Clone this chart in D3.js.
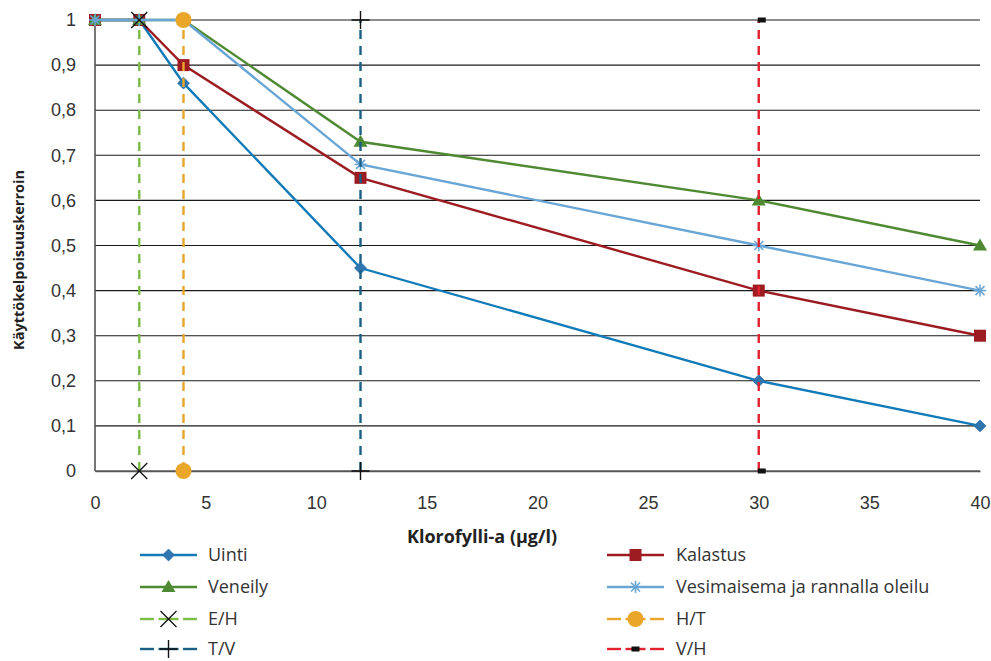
<!DOCTYPE html>
<html>
<head>
<meta charset="utf-8">
<script src="https://cdn.jsdelivr.net/npm/d3@7"></script>
<style>
  html, body { margin: 0; padding: 0; background: #fff; }
  svg { display: block; font-family: "Open Sans", "Liberation Sans", sans-serif; }
</style>
</head>
<body>
<svg id="chart" width="991" height="661"></svg>
<script>
// Chlorophyll-a concentrations (µg/l) where each usability value is given
const chlorophyll = [0, 2, 4, 12, 30, 40];

// Usability coefficients per recreational use
const uinti = [1, 1, 0.86, 0.45, 0.2, 0.1];
const kalastus = [1, 1, 0.9, 0.65, 0.4, 0.3];
const veneily = [1, 1, 1, 0.73, 0.6, 0.5];
const vesimaisema = [1, 1, 1, 0.68, 0.5, 0.4];

// Class boundaries (vertical reference lines)
const boundaryNames = ["E/H", "H/T", "T/V", "V/H"];
const boundaryX = [2, 4, 12, 30];
const boundaryY = [0, 1];

const xTicks = [0, 5, 10, 15, 20, 25, 30, 35, 40];
const yTicks = [0, 0.1, 0.2, 0.3, 0.4, 0.5, 0.6, 0.7, 0.8, 0.9, 1];

const svg = d3.select("#chart");
const plot = { left: 95, right: 980, top: 20, bottom: 471 };

const x = d3.scaleLinear().domain([0, 40]).range([plot.left, plot.right]);
const y = d3.scaleLinear().domain([0, 1]).range([plot.bottom, plot.top]);

const fmt = v => (v === 0 || v === 1) ? String(v) : String(v).replace(".", ",");

// Horizontal gridlines
svg.append("g").selectAll("line").data(yTicks).join("line")
  .attr("x1", plot.left).attr("x2", plot.right)
  .attr("y1", d => y(d)).attr("y2", d => y(d))
  .attr("stroke", "#1a1a1a").attr("stroke-width", 1.1);

// Left axis line
svg.append("line")
  .attr("x1", plot.left).attr("x2", plot.left).attr("y1", plot.top).attr("y2", plot.bottom)
  .attr("stroke", "#555").attr("stroke-width", 1.6);

// Axis tick labels
const yAxis = d3.axisLeft(y).tickValues(yTicks).tickFormat(fmt).tickSize(0).tickPadding(19);
const gy = svg.append("g").attr("transform", `translate(${plot.left},0)`).call(yAxis);
gy.select(".domain").remove();
gy.selectAll("text").attr("font-size", 18).attr("fill", "#333");

const xAxis = d3.axisBottom(x).tickValues(xTicks).tickFormat(d3.format("d")).tickSize(0).tickPadding(25);
const gx = svg.append("g").attr("transform", `translate(0,${plot.bottom})`).call(xAxis);
gx.select(".domain").attr("stroke", "#555").attr("stroke-width", 1.6);
gx.selectAll("text").attr("font-size", 18).attr("fill", "#333");

// Axis titles
svg.append("text")
  .attr("x", 482).attr("y", 543)
  .attr("text-anchor", "middle").attr("font-size", 18).attr("font-weight", "bold").attr("fill", "#222")
  .text("Klorofylli-a (µg/l)");
svg.append("text")
  .attr("transform", "translate(24,260) rotate(-90)")
  .attr("text-anchor", "middle").attr("font-size", 14.5).attr("font-weight", "bold").attr("fill", "#222")
  .text("Käyttökelpoisuuskerroin");

// Marker shapes
function drawMarker(g, type, cx, cy, color) {
  if (type === "diamond") {
    g.append("path").attr("d", d3.symbol(d3.symbolDiamond2, 90)())
      .attr("transform", `translate(${cx},${cy})`).attr("fill", color).attr("stroke", "#2b6fa8").attr("stroke-width", 0.8);
  } else if (type === "square") {
    g.append("rect").attr("x", cx - 6).attr("y", cy - 6).attr("width", 12).attr("height", 12).attr("fill", color);
  } else if (type === "triangle") {
    g.append("path").attr("d", `M${cx},${cy - 7}L${cx + 7},${cy + 5}L${cx - 7},${cy + 5}Z`).attr("fill", color);
  } else if (type === "star") {
    const r = 6;
    const p = [[-r, 0, r, 0], [0, -r, 0, r], [-r * 0.75, -r * 0.75, r * 0.75, r * 0.75], [-r * 0.75, r * 0.75, r * 0.75, -r * 0.75]];
    p.forEach(s => g.append("line").attr("x1", cx + s[0]).attr("y1", cy + s[1]).attr("x2", cx + s[2]).attr("y2", cy + s[3])
      .attr("stroke", color).attr("stroke-width", 1.6));
  } else if (type === "x") {
    const r = 8;
    g.append("path").attr("d", `M${cx - r},${cy - r}L${cx + r},${cy + r}M${cx - r},${cy + r}L${cx + r},${cy - r}`)
      .attr("stroke", "#111").attr("stroke-width", 1.3).attr("fill", "none");
  } else if (type === "circle") {
    g.append("circle").attr("cx", cx).attr("cy", cy).attr("r", 8).attr("fill", color);
  } else if (type === "plus") {
    const r = 9;
    g.append("path").attr("d", `M${cx - r},${cy}L${cx + r},${cy}M${cx},${cy - r}L${cx},${cy + r}`)
      .attr("stroke", "#111").attr("stroke-width", 1.4).attr("fill", "none");
  } else if (type === "dash") {
    g.append("rect").attr("x", cx - 1).attr("y", cy - 2.5).attr("width", 8).attr("height", 5).attr("fill", "#111");
  }
}

const series = [
  { name: "Uinti", xs: chlorophyll, ys: uinti, color: "#117ab8", marker: "diamond", dash: null, mColor: "#2f75b0" },
  { name: "Kalastus", xs: chlorophyll, ys: kalastus, color: "#9c1c22", marker: "square", dash: null, mColor: "#9c1c22" },
  { name: "Veneily", xs: chlorophyll, ys: veneily, color: "#4f8a32", marker: "triangle", dash: null, mColor: "#4f8a32" },
  { name: "Vesimaisema ja rannalla oleilu", xs: chlorophyll, ys: vesimaisema, color: "#6aa6d5", marker: "star", dash: null, mColor: "#6aa6d5" },
  { name: boundaryNames[0], xs: [boundaryX[0], boundaryX[0]], ys: boundaryY, color: "#7dbc45", marker: "x", dash: "9,7", mColor: "#111" },
  { name: boundaryNames[1], xs: [boundaryX[1], boundaryX[1]], ys: boundaryY, color: "#e9a628", marker: "circle", dash: "9,7", mColor: "#e9a628" },
  { name: boundaryNames[2], xs: [boundaryX[2], boundaryX[2]], ys: boundaryY, color: "#1a5f85", marker: "plus", dash: "9,7", mColor: "#111" },
  { name: boundaryNames[3], xs: [boundaryX[3], boundaryX[3]], ys: boundaryY, color: "#e1222f", marker: "dash", dash: "9,7", mColor: "#111" }
];

const line = d3.line().x(d => x(d[0])).y(d => y(d[1]));

series.forEach(s => {
  const g = svg.append("g");
  const pts = s.xs.map((v, i) => [v, s.ys[i]]);
  g.append("path").attr("d", line(pts)).attr("fill", "none")
    .attr("stroke", s.color).attr("stroke-width", 2.4)
    .attr("stroke-dasharray", s.dash);
  pts.forEach(p => drawMarker(g, s.marker, x(p[0]), y(p[1]), s.mColor));
});

// Legend, two columns
const legendRows = [555, 587, 619, 649];
const legendCols = [{ x0: 140, x1: 197, tx: 208 }, { x0: 607, x1: 664, tx: 676 }];
series.forEach((s, i) => {
  const col = legendCols[i % 2];
  const ly = legendRows[Math.floor(i / 2)];
  const g = svg.append("g");
  const cx = (col.x0 + col.x1) / 2;
  if (s.dash) {
    g.append("line").attr("x1", col.x0).attr("x2", col.x0 + 14).attr("y1", ly).attr("y2", ly)
      .attr("stroke", s.color).attr("stroke-width", 2.4);
    g.append("line").attr("x1", cx - 10).attr("x2", cx + 10).attr("y1", ly).attr("y2", ly)
      .attr("stroke", s.color).attr("stroke-width", 2.4);
    g.append("line").attr("x1", col.x1 - 14).attr("x2", col.x1).attr("y1", ly).attr("y2", ly)
      .attr("stroke", s.color).attr("stroke-width", 2.4);
  } else {
    g.append("line").attr("x1", col.x0).attr("x2", col.x1).attr("y1", ly).attr("y2", ly)
      .attr("stroke", s.color).attr("stroke-width", 2.4);
  }
  drawMarker(g, s.marker, s.marker === "dash" ? cx - 3 : cx, ly, s.mColor);
  g.append("text").attr("x", col.tx).attr("y", ly).attr("dy", "0.35em")
    .attr("font-size", 18).attr("fill", "#333").text(s.name);
});
</script>
</body>
</html>
